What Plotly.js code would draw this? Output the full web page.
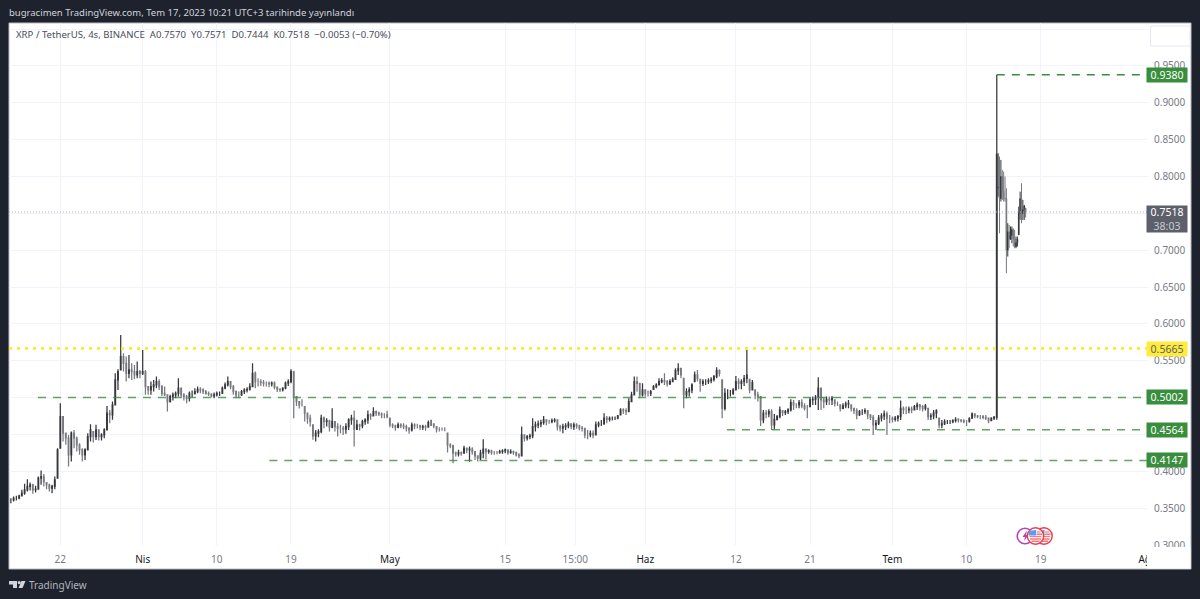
<!DOCTYPE html>
<html><head><meta charset="utf-8">
<script src="https://cdn.plot.ly/plotly-3.0.1.min.js"></script>
<style>html,body{margin:0;padding:0;background:#1e222d;overflow:hidden}#c{width:1200px;height:599px}</style>
</head><body><div id="c"></div>
<script>
// 8-hour bars from 16 Mar 2023 up to the breakout bar
const barHighs=[.3635,.3658,.3667,.3681,.3748,.3830,.3893,.3848,.3830,.3803,.3929,.4011,.3965,.3848,.3830,.3816,.3929,.4313,.4924,.4743,.4517,.4494,.4539,.4562,.4472,.4381,.4313,.4313,.4517,.4639,.4539,.4630,.4571,.4517,.4585,.4887,.4833,.4946,.5330,.5385,.5850,.5602,.5556,.5579,.5466,.5443,.5489,.5376,.5647,.5376,.5159,.5217,.5240,.5285,.5249,.5172,.5150,.5037,.5037,.5068,.5082,.5263,.5127,.5059,.5037,.5082,.5095,.5127,.5150,.5141,.5127,.5104,.5082,.5059,.5068,.5082,.5082,.5150,.5204,.5285,.5217,.5172,.5095,.5082,.5104,.5127,.5141,.5195,.5466,.5353,.5263,.5249,.5240,.5217,.5217,.5217,.5217,.5150,.5127,.5141,.5217,.5249,.5385,.5353,.5014,.4946,
.4978,.4879,.4788,.4766,.4630,.4562,.4571,.4766,.4743,.4720,.4698,.4856,.4675,.4653,.4630,.4616,.4653,.4720,.4766,.4824,.4698,.4644,.4698,.4720,.4824,.4788,.4870,.4824,.4811,.4797,.4788,.4820,.4720,.4653,.4630,.4662,.4653,.4653,.4630,.4598,.4662,.4653,.4644,.4630,.4630,.4630,.4689,.4698,.4644,.4607,.4598,.4594,.4598,.4517,.4381,.4359,.4268,.4291,.4268,.4345,.4314,.4336,.4327,.4268,.4210,.4291,.4436,.4314,.4300,.4291,.4277,.4277,.4291,.4300,.4309,.4291,.4300,.4282,.4268,.4246,.4607,.4494,.4494,.4508,.4720,.4675,.4689,.4698,.4752,.4707,.4698,.4716,.4720,.4707,.4630,.4644,.4653,.4675,.4644,.4662,.4653,.4630,
.4616,.4584,.4562,.4553,.4553,.4675,.4675,.4697,.4788,.4751,.4742,.4742,.4742,.4765,.4855,.4855,.4855,.4991,.5081,.5285,.5285,.5194,.5194,.5104,.5095,.5104,.5172,.5194,.5262,.5262,.5330,.5240,.5249,.5276,.5398,.5466,.5398,.5262,.5127,.5140,.5194,.5353,.5375,.5249,.5249,.5249,.5262,.5276,.5307,.5411,.5384,.5240,.5127,.5113,.5104,.5127,.5294,.5262,.5249,.5307,.5655,.5249,.5240,.5104,.5081,.5014,.4833,.4833,.4842,.4842,.4779,.4765,.4878,.4824,.4833,.4855,.4977,.4968,.4923,.4968,.4977,.4923,.4901,.5005,.5014,.5036,.5276,.5127,.5005,.5014,.5014,.5023,.4968,.4946,.4901,.4923,.4946,.4968,.4901,.4855,.4855,.4833,.4842,.4855,.4833,
.4765,.4765,.4697,.4765,.4788,.4824,.4810,.4765,.4742,.4751,.4765,.4959,.4878,.4878,.4878,.4878,.4901,.4932,.4914,.4901,.4914,.4855,.4788,.4833,.4842,.4720,.4697,.4706,.4697,.4697,.4706,.4733,.4720,.4706,.4706,.4697,.4733,.4797,.4779,.4765,.4765,.4765,.4765,.4720,.4733,.4751,.9380];
const barLows=[.3568,.3590,.3604,.3622,.3658,.3681,.3726,.3739,.3694,.3712,.3748,.3816,.3794,.3757,.3726,.3703,.3757,.3907,.4313,.4404,.4359,.4065,.4133,.4313,.4268,.4223,.4133,.4155,.4282,.4404,.4390,.4426,.4417,.4417,.4449,.4562,.4652,.4698,.4901,.5104,.5376,.5353,.5217,.5263,.5240,.5249,.5263,.5263,.5308,.5037,.5037,.5037,.5082,.5127,.5104,.5023,.5023,.4811,.4933,.4960,.4991,.5014,.4991,.4960,.4924,.4946,.5005,.5037,.5059,.5059,.5050,.5037,.5023,.5005,.4991,.5014,.5023,.5059,.5113,.5150,.5113,.5037,.4991,.4991,.5023,.5050,.5068,.5095,.5150,.5127,.5150,.5159,.5150,.5150,.5141,.5150,.5113,.5077,.5077,.5082,.5113,.5159,.5195,.4720,.4887,.4851,
.4879,.4675,.4644,.4607,.4427,.4404,.4463,.4517,.4585,.4607,.4540,.4585,.4540,.4472,.4517,.4494,.4508,.4562,.4630,.4336,.4562,.4553,.4585,.4630,.4644,.4698,.4743,.4752,.4752,.4720,.4720,.4720,.4598,.4585,.4549,.4585,.4585,.4571,.4540,.4508,.4540,.4571,.4580,.4562,.4562,.4549,.4598,.4616,.4585,.4526,.4540,.4549,.4544,.4255,.4314,.4110,.4201,.4201,.4210,.4237,.4246,.4128,.4223,.4155,.4133,.4155,.4178,.4164,.4237,.4223,.4223,.4232,.4237,.4237,.4246,.4223,.4237,.4223,.4201,.4178,.4201,.4404,.4418,.4436,.4449,.4540,.4585,.4598,.4630,.4626,.4644,.4653,.4662,.4553,.4540,.4517,.4562,.4585,.4571,.4562,.4576,.4553,
.4539,.4449,.4435,.4462,.4449,.4494,.4598,.4616,.4629,.4652,.4675,.4688,.4697,.4706,.4765,.4779,.4765,.4810,.4946,.5036,.5081,.4991,.5014,.5014,.5014,.5023,.5113,.5127,.5172,.5194,.5172,.5149,.5172,.5217,.5240,.5307,.5262,.4855,.4991,.5014,.5059,.5217,.5217,.5081,.5158,.5172,.5185,.5194,.5217,.5262,.5285,.4720,.4824,.4977,.5014,.5036,.5104,.5113,.5113,.5158,.5194,.5059,.5104,.4977,.4946,.4616,.4652,.4720,.4733,.4562,.4571,.4688,.4720,.4751,.4765,.4779,.4810,.4833,.4855,.4855,.4855,.4824,.4720,.4878,.4901,.4901,.4833,.4833,.4855,.4901,.4901,.4901,.4878,.4887,.4810,.4842,.4855,.4855,.4810,.4779,.4706,.4751,.4765,.4779,.4706,
.4697,.4494,.4562,.4629,.4675,.4697,.4494,.4652,.4661,.4675,.4675,.4697,.4779,.4779,.4788,.4788,.4824,.4833,.4824,.4810,.4824,.4697,.4697,.4706,.4720,.4584,.4584,.4629,.4643,.4643,.4652,.4661,.4661,.4661,.4652,.4616,.4661,.4720,.4720,.4720,.4706,.4706,.4697,.4652,.4688,.4697,.4700];
const barCloses=[.3613,.3635,.3635,.3667,.3703,.3748,.3794,.3816,.3748,.3757,.3907,.3929,.3861,.3816,.3771,.3794,.3884,.4291,.4743,.4517,.4449,.4223,.4517,.4449,.4359,.4291,.4223,.4291,.4472,.4562,.4472,.4562,.4472,.4494,.4562,.4788,.4765,.4901,.5240,.5353,.5556,.5466,.5330,.5376,.5353,.5308,.5353,.5330,.5353,.5150,.5104,.5150,.5172,.5217,.5150,.5059,.5037,.4946,.5014,.5037,.5059,.5127,.5037,.5014,.4991,.5059,.5059,.5082,.5113,.5104,.5082,.5059,.5050,.5023,.5037,.5059,.5059,.5127,.5172,.5217,.5150,.5082,.5037,.5037,.5082,.5104,.5113,.5150,.5330,.5217,.5217,.5204,.5195,.5195,.5186,.5195,.5141,.5113,.5104,.5127,.5195,.5217,.5353,.5014,.4946,.4901,
.4901,.4788,.4720,.4675,.4481,.4517,.4540,.4720,.4675,.4689,.4598,.4675,.4607,.4585,.4585,.4571,.4607,.4698,.4720,.4571,.4630,.4616,.4675,.4698,.4766,.4752,.4811,.4788,.4779,.4766,.4766,.4743,.4630,.4616,.4598,.4630,.4616,.4607,.4585,.4562,.4630,.4616,.4616,.4598,.4607,.4598,.4662,.4662,.4616,.4571,.4571,.4571,.4571,.4359,.4345,.4246,.4237,.4255,.4246,.4314,.4291,.4300,.4268,.4210,.4178,.4246,.4300,.4268,.4277,.4255,.4255,.4255,.4268,.4277,.4291,.4255,.4268,.4255,.4223,.4210,.4494,.4449,.4472,.4481,.4607,.4630,.4644,.4662,.4698,.4675,.4675,.4689,.4698,.4607,.4585,.4607,.4616,.4644,.4607,.4630,.4616,.4585,
.4584,.4494,.4494,.4516,.4494,.4629,.4652,.4652,.4720,.4706,.4720,.4720,.4720,.4751,.4833,.4824,.4810,.4946,.5036,.5217,.5194,.5036,.5104,.5059,.5059,.5081,.5149,.5172,.5217,.5231,.5217,.5185,.5217,.5249,.5366,.5398,.5307,.5036,.5081,.5104,.5172,.5307,.5262,.5194,.5217,.5217,.5231,.5249,.5285,.5366,.5330,.4855,.5059,.5059,.5059,.5104,.5217,.5194,.5217,.5262,.5307,.5104,.5203,.5036,.5014,.4697,.4788,.4779,.4810,.4629,.4706,.4742,.4833,.4797,.4810,.4833,.4932,.4901,.4901,.4932,.4887,.4855,.4855,.4968,.4977,.5005,.5127,.4968,.4946,.4977,.4968,.4991,.4923,.4923,.4855,.4887,.4914,.4923,.4855,.4824,.4765,.4810,.4810,.4824,.4765,
.4733,.4629,.4652,.4720,.4751,.4779,.4720,.4720,.4706,.4720,.4742,.4855,.4833,.4833,.4842,.4833,.4878,.4901,.4878,.4855,.4887,.4742,.4751,.4788,.4824,.4629,.4643,.4675,.4675,.4675,.4688,.4706,.4697,.4688,.4675,.4675,.4715,.4779,.4751,.4742,.4742,.4733,.4720,.4688,.4720,.4733,.8300];
const firstBarTime="2023-03-16T00:00";
const barStepHours=8;
// 4-hour bars after the breakout
const tailHighs=[.8315,.8270,.8225,.8089,.8066,.7999,.7840,.7366,.7343,.7321,.7321,.7298,.7275,.7185,.7185,.7592,.7795,.7908,.7682,.7614,.7571];
const tailLows=[.7727,.7230,.7660,.7682,.7660,.7660,.6688,.6914,.7027,.7140,.7095,.7049,.7027,.7027,.7049,.7208,.7411,.7366,.7411,.7411,.7444];
const tailCloses=[.7850,.7700,.8000,.7800,.7700,.7700,.7000,.7250,.7150,.7200,.7280,.7150,.7050,.7100,.7150,.7500,.7700,.7500,.7550,.7600,.7518];
const firstTailTime="2023-07-13T20:00";
const tailStepHours=4;
// horizontal levels
const levelPrices=[0.9380,0.5002,0.4564,0.4147];
const levelStarts=["2023-07-13T16:00","2023-03-19T07:00","2023-06-10T22:00","2023-04-16T09:00"];
const resistancePrice=0.5665;
const lastPrice=0.7518;
const xStart="2023-03-15T18:33", xEnd="2023-08-01T00:30";
const xTickVals=["2023-03-22","2023-04-01","2023-04-10","2023-04-19","2023-05-01","2023-05-15","2023-05-23T12:00","2023-06-01","2023-06-12","2023-06-21","2023-07-01","2023-07-10","2023-07-19","2023-08-01"];
const xTickText=["22","Nis","10","19","May","15","15:00","Haz","12","21","Tem","10","19","Ağu"];
const monthLabels=["Nis","May","Haz","Tem","Ağu"];
const yTickVals=[0.30,0.35,0.40,0.45,0.50,0.55,0.60,0.65,0.70,0.75,0.80,0.85,0.90,0.95,1.00];
const yTickText=["0.3000","0.3500","0.4000","","","0.5500","0.6000","0.6500","0.7000","","0.8000","0.8500","0.9000","0.9500",""];

const L=9,R=1148,T=23,B=545;
const fx=p=>(p-L)/(R-L), fy=p=>1-(p-T)/(B-T);
const times=(s,n,h)=>{const t0=Date.parse(s+":00Z");return Array.from({length:n},(_,i)=>new Date(t0+i*h*3600e3).toISOString().slice(0,16));};
const opensOf=(c,hi,lo)=>c.map((_,i)=>{const o=i?c[i-1]:c[0];return Math.min(hi[i],Math.max(lo[i],o));});
const upC='#36373d',dnC='#77797f';
const candle=(s,n,h,hi,lo,c,w)=>({type:'candlestick',x:times(s,n,h),open:opensOf(c,hi,lo),high:hi,low:lo,close:c,whiskerwidth:0,
  increasing:{line:{color:upC,width:w},fillcolor:upC},decreasing:{line:{color:dnC,width:w},fillcolor:dnC},hoverinfo:'skip',showlegend:false});
const traces=[candle(firstBarTime,barHighs.length,barStepHours,barHighs,barLows,barCloses,1.25),
              candle(firstTailTime,tailHighs.length,tailStepHours,tailHighs,tailLows,tailCloses,1)];
traces.push({type:'scatter',mode:'lines',x:[xStart,xEnd],y:[lastPrice,lastPrice],line:{color:'#b2b5be',width:1,dash:'1px,2px'},hoverinfo:'skip',showlegend:false});
traces.push({type:'scatter',mode:'lines',x:[xStart,xEnd],y:[resistancePrice,resistancePrice],line:{color:'#ffeb3b',width:3,dash:'3px,5px'},hoverinfo:'skip',showlegend:false});
levelPrices.forEach((p,i)=>traces.push({type:'scatter',mode:'lines',x:[levelStarts[i],xEnd],y:[p,p],line:{color:'#388e3c',width:1.4,dash:'8px,7px'},opacity:i?0.8:1,hoverinfo:'skip',showlegend:false}));

const FONT='"Noto Sans", sans-serif';
const tag=(p,bg,fg,txt)=>({xref:'paper',yref:'y',x:fx(1167),y:p,xanchor:'center',yanchor:'middle',text:txt,showarrow:false,bgcolor:bg,width:38,height:12,borderpad:1,font:{family:FONT,size:10.5,color:fg}});
const note=(px,py,txt,col,size)=>({xref:'paper',yref:'paper',x:fx(px),y:fy(py),xanchor:'left',yanchor:'middle',text:txt,showarrow:false,font:{family:FONT,size:size,color:col}});
const annotations=[
 note(7,12.5,'bugracimen TradingView.com, Tem 17, 2023 10:21 UTC+3 tarihinde yayınlandı','#d1d4dc',9.5),
 note(14,35,'XRP / TetherUS, 4s, BINANCE&nbsp;&nbsp;A0.7570&nbsp;&nbsp;Y0.7571&nbsp;&nbsp;D0.7444&nbsp;&nbsp;K0.7518&nbsp;&nbsp;−0.0053 (−0.70%)','#4a4e5a',9.6),
 note(27,585,'TradingView','#b2b5be',10),
 tag(levelPrices[0],'#388e3c','#ffffff','0.9380'),
 tag(levelPrices[1],'#388e3c','#ffffff','0.5002'),
 tag(levelPrices[2],'#388e3c','#ffffff','0.4564'),
 tag(levelPrices[3],'#388e3c','#ffffff','0.4147'),
 tag(resistancePrice,'#ffeb3b','#5d606b','0.5665'),
 {xref:'paper',yref:'paper',x:fx(1167),y:fy(218.7),xanchor:'center',yanchor:'middle',text:'0.7518<br><span style="color:#c8cad0">38:03</span>',showarrow:false,bgcolor:'#5d606b',width:38,height:24,borderpad:1,font:{family:FONT,size:10.5,color:'#ffffff'}},
];
const circ=(cx,cy,r,fill,lc,lw)=>({type:'circle',xref:'paper',yref:'paper',x0:fx(cx-r),x1:fx(cx+r),y0:fy(cy+r),y1:fy(cy-r),fillcolor:fill,line:{color:lc,width:lw},layer:'above'});
const pth=(pts,fill,lc,lw)=>({type:'path',xref:'paper',yref:'paper',path:'M'+pts.map(q=>fx(q[0])+' '+fy(q[1])).join('L')+'Z',fillcolor:fill,line:{color:lc||fill,width:lw||0},layer:'above'});
const seg=(x0,y,x1,c)=>({type:'line',xref:'paper',yref:'paper',x0:fx(x0),x1:fx(x1),y0:fy(y),y1:fy(y),line:{color:c,width:1.2},layer:'above'});
const flag=(cx,cy)=>[circ(cx,cy,8.2,'#ffffff','#f23645',1.4),seg(cx-6,cy+.5,cx+6,'#f77c80'),seg(cx-5.5,cy+3,cx+5.5,'#f7525f'),seg(cx-4,cy+5.2,cx+4,'#f7525f'),
  pth([[cx-6.2,cy-5.2],[cx+.5,cy-6],[cx+.5,cy-.5],[cx-7,cy-.5]],'#5b9cf6'),seg(cx+1,cy-4,cx+5,'#f77c80'),seg(cx+1,cy-1.8,cx+6.5,'#f7525f')];
const shapes=[
 {type:'rect',xref:'paper',yref:'paper',x0:fx(9),x1:fx(1191),y0:fy(569),y1:fy(23),fillcolor:'#ffffff',line:{color:'#b8bbc4',width:1},layer:'below'},
 {type:'rect',xref:'paper',yref:'paper',x0:fx(1147),x1:fx(1190.4),y0:fy(568.6),y1:fy(547),fillcolor:'#ffffff',line:{width:0},layer:'above'},
 {type:'rect',xref:'paper',yref:'paper',x0:fx(1150.5),x1:fx(1190),y0:fy(46),y1:fy(26),fillcolor:'#ffffff',line:{color:'#e6e8ee',width:1},layer:'above'},
 ...flag(1044,536),
 circ(1025,536,7.8,'#ffffff','#ab47bc',1.6),
 pth([[1027,530.5],[1022.5,537],[1025,537],[1024,541],[1028.5,535],[1026,535]],'#ab47bc'),
 ...flag(1035.5,536),
 pth([[9,581],[17,581],[17,588],[13,588],[13,584.4],[9,584.4]],'#d1d4dc'),
 circ(19.2,582.6,1.6,'#d1d4dc','#d1d4dc',0),
 pth([[21.5,581],[25.5,581],[22.5,588],[18.5,588]],'#d1d4dc'),
];
const layout={width:1200,height:599,margin:{l:L,r:1200-R,t:T,b:599-B,pad:0},paper_bgcolor:'#1e222d',plot_bgcolor:'rgba(0,0,0,0)',showlegend:false,hovermode:false,
 xaxis:{type:'date',range:[xStart,xEnd],rangeslider:{visible:false},tickmode:'array',tickvals:xTickVals,
   ticktext:xTickText.map(t=>monthLabels.includes(t)?'<span style="color:#131722">'+t+'</span>':t),tickangle:0,ticks:'outside',ticklen:5,tickcolor:'rgba(0,0,0,0)',
   showgrid:true,gridcolor:'#f0f3fa',gridwidth:1,zeroline:false,showline:false,tickfont:{family:FONT,size:10,color:'#787b86'}},
 yaxis:{side:'right',range:[0.3,0.3+522/737],tickmode:'array',tickvals:yTickVals,ticktext:yTickText,ticks:'outside',ticklen:3,tickcolor:'rgba(0,0,0,0)',
   showgrid:true,gridcolor:'#f0f3fa',gridwidth:1,zeroline:false,showline:false,tickfont:{family:FONT,size:10,color:'#787b86'}},
 annotations,shapes};
Plotly.newPlot('c',traces,layout,{displayModeBar:false,staticPlot:true});
</script></body></html>
